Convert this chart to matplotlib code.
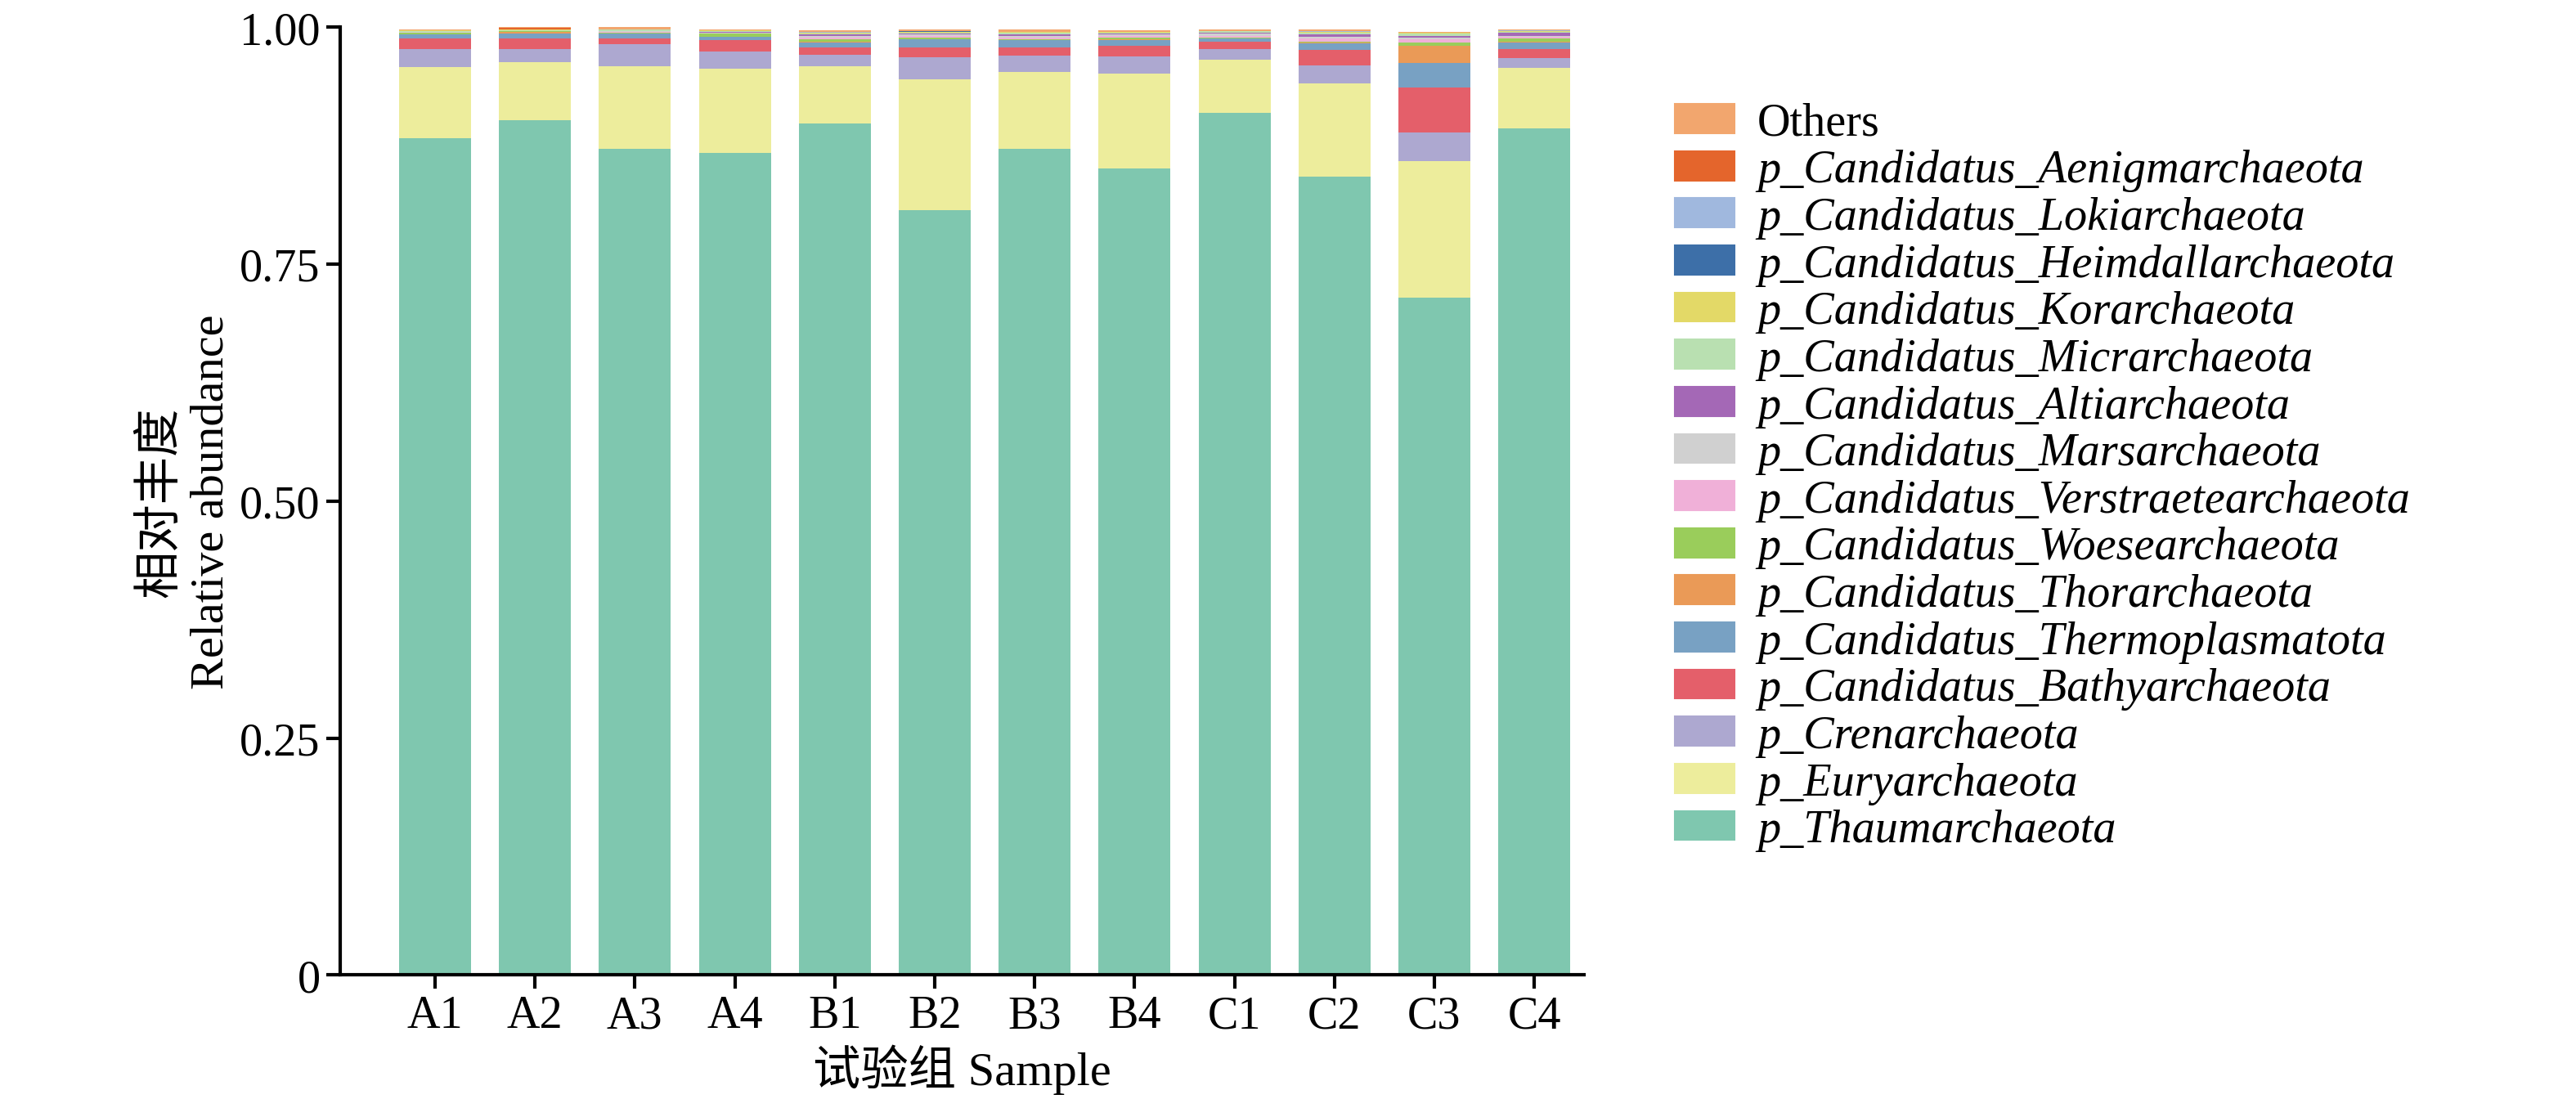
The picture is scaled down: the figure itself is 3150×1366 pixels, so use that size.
import matplotlib.pyplot as plt
from matplotlib.patches import Patch
import numpy as np

plt.rcParams['font.family'] = ['Liberation Serif', 'Noto Sans CJK SC']

samples = ["A1", "A2", "A3", "A4", "B1", "B2", "B3", "B4", "C1", "C2", "C3", "C4"]

# shares
thaum = [0.883, 0.902, 0.872, 0.867, 0.898, 0.807, 0.872, 0.851, 0.910, 0.842, 0.715, 0.893]
eury = [0.075, 0.061, 0.087, 0.089, 0.061, 0.138, 0.081, 0.100, 0.056, 0.099, 0.144, 0.064]
cren = [0.019, 0.014, 0.023, 0.018, 0.012, 0.023, 0.017, 0.018, 0.011, 0.019, 0.030, 0.010]
bathy = [0.011, 0.011, 0.006, 0.012, 0.008, 0.011, 0.009, 0.011, 0.008, 0.016, 0.047, 0.010]
thermo = [0.004, 0.005, 0.005, 0.004, 0.005, 0.008, 0.007, 0.006, 0.003, 0.007, 0.026, 0.007]
thor = [0.000, 0.002, 0.000, 0.000, 0.001, 0.000, 0.000, 0.001, 0.000, 0.001, 0.018, 0.001]
woese = [0.002, 0.001, 0.001, 0.003, 0.002, 0.002, 0.001, 0.002, 0.001, 0.001, 0.004, 0.003]
verstr = [0.000, 0.000, 0.001, 0.000, 0.002, 0.002, 0.002, 0.002, 0.002, 0.003, 0.003, 0.002]
mars = [0.001, 0.000, 0.001, 0.001, 0.002, 0.001, 0.002, 0.001, 0.002, 0.002, 0.002, 0.001]
alti = [0.000, 0.000, 0.000, 0.001, 0.001, 0.001, 0.001, 0.001, 0.001, 0.002, 0.002, 0.003]
micr = [0.001, 0.001, 0.002, 0.001, 0.001, 0.001, 0.002, 0.001, 0.002, 0.002, 0.002, 0.001]
kor = [0.001, 0.001, 0.000, 0.001, 0.001, 0.001, 0.001, 0.001, 0.000, 0.001, 0.001, 0.001]
heimd = [0.000, 0.000, 0.000, 0.000, 0.000, 0.001, 0.000, 0.000, 0.000, 0.000, 0.000, 0.000]
loki = [0.000, 0.000, 0.000, 0.000, 0.001, 0.000, 0.000, 0.000, 0.000, 0.001, 0.000, 0.001]
aenig = [0.000, 0.001, 0.000, 0.000, 0.000, 0.000, 0.000, 0.000, 0.000, 0.000, 0.000, 0.000]
others = [0.001, 0.001, 0.002, 0.001, 0.002, 0.002, 0.003, 0.002, 0.002, 0.002, 0.001, 0.001]

labels = ["p_Thaumarchaeota", "p_Euryarchaeota", "p_Crenarchaeota",
          "p_Candidatus_Bathyarchaeota", "p_Candidatus_Thermoplasmatota",
          "p_Candidatus_Thorarchaeota", "p_Candidatus_Woesearchaeota",
          "p_Candidatus_Verstraetearchaeota", "p_Candidatus_Marsarchaeota",
          "p_Candidatus_Altiarchaeota", "p_Candidatus_Micrarchaeota",
          "p_Candidatus_Korarchaeota", "p_Candidatus_Heimdallarchaeota",
          "p_Candidatus_Lokiarchaeota", "p_Candidatus_Aenigmarchaeota", "Others"]
series = [thaum, eury, cren, bathy, thermo, thor, woese, verstr, mars, alti,
          micr, kor, heimd, loki, aenig, others]
colors = ["#7fc7af", "#eded9c", "#ada8d0", "#e45f6a", "#78a1c3", "#ea9a57",
          "#9acd5b", "#f0b0d8", "#d0d0d0", "#a468b6", "#b9e0b1", "#e3d967",
          "#3d6fa8", "#a0b8de", "#e4652c", "#f2a66e"]

fig = plt.figure(figsize=(21, 9.113), dpi=150)
ax = fig.add_axes([0.132, 0.127, 0.483, 0.848])

x = np.arange(len(samples))
bottom = np.zeros(len(samples))
for vals, col in zip(series, colors):
    ax.bar(x, vals, bottom=bottom, width=0.72, color=col, edgecolor="none")
    bottom += np.array(vals)

ax.set_xlim(-0.95, 11.5)
ax.set_ylim(0, 1.0)
ax.set_yticks([0, 0.25, 0.5, 0.75, 1.0])
ax.set_yticklabels(["0", "0.25", "0.50", "0.75", "1.00"])
ax.set_xticks(x)
ax.set_xticklabels(samples)
ax.tick_params(labelsize=27, width=2, length=8)
for s in ["top", "right"]:
    ax.spines[s].set_visible(False)
for s in ["left", "bottom"]:
    ax.spines[s].set_linewidth(2)
ax.set_ylabel("相对丰度\nRelative abundance", fontsize=28, linespacing=1.25)
ax.set_xlabel("试验组 Sample", fontsize=28, labelpad=4)

handles = [Patch(color=c) for c in colors][::-1]
leg = fig.legend(handles, labels[::-1], loc="upper left", bbox_to_anchor=(0.634, 0.945),
                 frameon=False, fontsize=27, handlelength=1.3, handleheight=0.6,
                 labelspacing=0.1, handletextpad=0.5)
for t in leg.get_texts():
    if t.get_text() != "Others":
        t.set_fontstyle("italic")

fig.savefig("out.png", dpi=150)
